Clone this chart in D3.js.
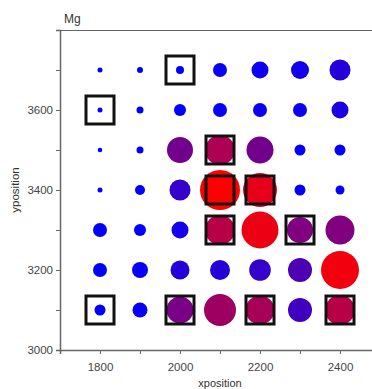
<!DOCTYPE html>
<html lang="en">
<head>
    <meta charset="UTF-8">
    <title>Mg bubble grid</title>
    <script src="https://d3js.org/d3.v7.min.js"></script>
    <style>
        body { margin: 0; background: #fff; }
        svg { display: block; font-family: "Liberation Sans", Arial, sans-serif; }
    </style>
</head>
<body>
    <div id="d3-container"></div>
    <script>
        // grid positions
        var xPositions = [1800, 1900, 2000, 2100, 2200, 2300, 2400];
        var yPositions = [3700, 3600, 3500, 3400, 3300, 3200, 3100];

        // bubble size per row (top row first)
        var sizeRows = [
            [2.5, 3, 4, 7, 8.5, 9, 10.5],
            [2.5, 3.5, 6, 7, 7, 7, 8.5],
            [2.3, 3.5, 13, 15, 13.5, 5.5, 5.5],
            [2.5, 5, 10.5, 20, 17, 5.5, 4.5],
            [7, 6, 8.5, 15, 18.5, 13, 14.5],
            [7, 8, 9.5, 10, 10.8, 12, 19],
            [5.5, 7.5, 13.5, 16, 14.5, 12, 15]
        ];

        // Mg level per row, 0 = low (blue), 1 = high (red)
        var mgRows = [
            [0, 0, 0, 0.03, 0.05, 0.07, 0.14],
            [0, 0, 0, 0.03, 0.04, 0.05, 0.1],
            [0, 0, 0.45, 0.68, 0.45, 0.02, 0.02],
            [0, 0, 0.2, 1.0, 0.9, 0.02, 0.02],
            [0, 0, 0.08, 0.72, 0.92, 0.5, 0.5],
            [0, 0.03, 0.15, 0.15, 0.2, 0.3, 0.95],
            [0, 0.03, 0.48, 0.62, 0.66, 0.25, 0.72]
        ];

        // boxed sample positions [x, y]
        var boxedPoints = [
            [2000, 3700], [1800, 3600], [2100, 3500], [2100, 3400], [2200, 3400],
            [2100, 3300], [2300, 3300], [1800, 3100], [2000, 3100], [2200, 3100], [2400, 3100]
        ];

        var xTicks = [1800, 2000, 2200, 2400];
        var yTicks = [3000, 3200, 3400, 3600];

        var W = 372, H = 389;

        var svg = d3.select("#d3-container").append("svg")
            .attr("width", W)
            .attr("height", H);

        var x = d3.scaleLinear().domain([1700, 2500]).range([60, 380]);
        var y = d3.scaleLinear().domain([3000, 3800]).range([350, 30]);
        var r = d3.scaleLinear().domain([0, 20]).range([0, 20]);
        var color = d3.scaleLinear().domain([0, 1]).range(["#0000ff", "#ff0000"]).interpolate(d3.interpolateRgb);

        var points = [];
        yPositions.forEach(function (yv, i) {
            xPositions.forEach(function (xv, j) {
                points.push({x: xv, y: yv, size: sizeRows[i][j], mg: mgRows[i][j]});
            });
        });

        // top frame line
        svg.append("line")
            .attr("x1", x(1700)).attr("x2", x(2500))
            .attr("y1", y(3800) + 0.5).attr("y2", y(3800) + 0.5)
            .attr("stroke", "#666").attr("stroke-width", 1.2);

        var axisColor = "#666";
        var xAxis = d3.axisBottom(x)
            .tickValues(d3.range(1700, 2501, 100))
            .tickSize(4)
            .tickFormat(function (d) { return xTicks.indexOf(d) >= 0 ? d : ""; });
        var yAxis = d3.axisLeft(y)
            .tickValues(d3.range(3000, 3801, 100))
            .tickSize(4)
            .tickFormat(function (d) { return yTicks.indexOf(d) >= 0 ? d : ""; });

        var gx = svg.append("g")
            .attr("transform", "translate(0," + y(3000) + ")")
            .call(xAxis);
        var gy = svg.append("g")
            .attr("transform", "translate(" + x(1700) + ",0)")
            .call(yAxis);

        [gx, gy].forEach(function (g) {
            g.select(".domain").attr("stroke", axisColor).attr("stroke-width", 1.5);
            g.selectAll(".tick line").attr("stroke", axisColor);
            g.selectAll(".tick text")
                .attr("fill", "#444")
                .style("font-size", "11.5px")
                .style("font-family", "'Liberation Sans', Arial, sans-serif");
        });
        gx.selectAll(".tick text").attr("dy", "1.2em");

        // bubbles
        svg.append("g").selectAll("circle")
            .data(points)
            .enter().append("circle")
            .attr("cx", function (d) { return x(d.x); })
            .attr("cy", function (d) { return y(d.y); })
            .attr("r", function (d) { return r(d.size); })
            .attr("fill", function (d) { return color(d.mg); });

        // boxes
        svg.append("g").selectAll("rect")
            .data(boxedPoints)
            .enter().append("rect")
            .attr("x", function (d) { return x(d[0]) - 14; })
            .attr("y", function (d) { return y(d[1]) - 14; })
            .attr("width", 28)
            .attr("height", 28)
            .attr("fill", "none")
            .attr("stroke", "#111")
            .attr("stroke-width", 3);

        // labels
        svg.append("text")
            .attr("x", 64)
            .attr("y", 23)
            .attr("fill", "#333")
            .style("font-size", "12px")
            .text("Mg");

        svg.append("text")
            .attr("transform", "translate(19," + y(3400) + ") rotate(-90)")
            .attr("text-anchor", "middle")
            .attr("fill", "#333")
            .style("font-size", "11.5px")
            .text("yposition");

        svg.append("text")
            .attr("x", 220)
            .attr("y", 387)
            .attr("text-anchor", "middle")
            .attr("fill", "#333")
            .style("font-size", "11px")
            .text("xposition");
    </script>
</body>
</html>
